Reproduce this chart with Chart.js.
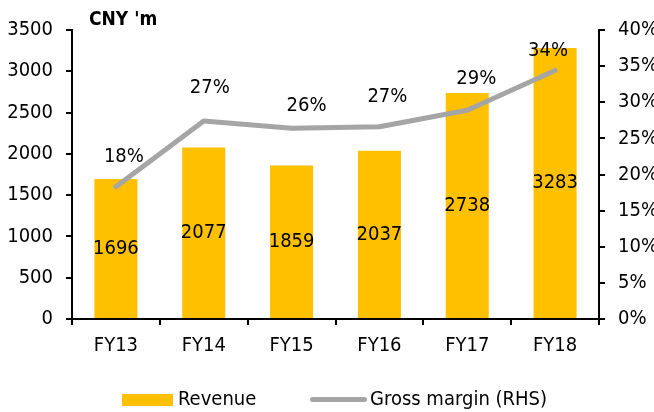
<!DOCTYPE html>
<html>
<head>
<meta charset="utf-8">
<script src="https://cdn.jsdelivr.net/npm/chart.js@4/dist/chart.umd.min.js"></script>
<style>
  html, body { margin: 0; padding: 0; background: #fff; }
  #wrap { position: relative; width: 654px; height: 412px; }
  canvas { position: absolute; left: 0; top: 0; }
  .txt { position: absolute; font-family: "DejaVu Sans Condensed", "DejaVu Sans", sans-serif; font-size: 20px; color: #000; white-space: nowrap; line-height: 1; }
  #title { left: 89px; top: 9px; font-weight: bold; font-size: 19px; }
  .sw { position: absolute; }
</style>
</head>
<body>
<div id="wrap">
  <canvas id="c" width="654" height="412"></canvas>
  <div id="title" class="txt">CNY 'm</div>
  <div class="sw" style="left:122px;top:394px;width:51px;height:12px;background:#FFC000"></div>
  <div class="txt" style="left:178px;top:388px;">Revenue</div>
  <div class="sw" style="left:310px;top:397px;width:57px;height:5px;background:#A5A5A5;border-radius:3px"></div>
  <div class="txt" style="left:370px;top:388px;">Gross margin (RHS)</div>
</div>
<script>
const categories = ["FY13", "FY14", "FY15", "FY16", "FY17", "FY18"];
const revenue = [1696, 2077, 1859, 2037, 2738, 3283];
const grossMargin = [18.3, 27.4, 26.4, 26.6, 28.9, 34.4];
const leftTicks = [0, 500, 1000, 1500, 2000, 2500, 3000, 3500];
const rightTicks = [0, 5, 10, 15, 20, 25, 30, 35, 40];

const FONT = "DejaVu Sans Condensed";
const FS = 20;
const marginLabelOffsets = [[8, -30], [6, -33], [15, -22], [8, -30], [9, -31], [-7, -20]];

const labelPlugin = {
  id: 'labels',
  afterDatasetsDraw(chart) {
    const ctx = chart.ctx;
    ctx.save();
    ctx.font = FS + "px '" + FONT + "'";
    ctx.fillStyle = '#000';
    ctx.textAlign = 'center';
    ctx.textBaseline = 'middle';
    const barMeta = chart.getDatasetMeta(0);
    barMeta.data.forEach((el, i) => {
      const cy = (el.y + el.base) / 2;
      ctx.fillText(String(revenue[i]), el.x, cy);
    });
    const lineMeta = chart.getDatasetMeta(1);
    lineMeta.data.forEach((el, i) => {
      const o = marginLabelOffsets[i];
      ctx.fillText(Math.round(grossMargin[i]) + '%', el.x + o[0], el.y + o[1]);
    });
    ctx.restore();
  }
};

new Chart(document.getElementById('c'), {
  type: 'bar',
  data: {
    labels: categories,
    datasets: [
      {
        type: 'bar', label: 'Revenue', data: revenue, yAxisID: 'y',
        backgroundColor: '#FFC000', categoryPercentage: 0.49, barPercentage: 1, order: 2
      },
      {
        type: 'line', label: 'Gross margin (RHS)', data: grossMargin, yAxisID: 'y1',
        borderColor: '#A5A5A5', borderWidth: 5, pointRadius: 0, tension: 0,
        borderCapStyle: 'round', borderJoinStyle: 'round', order: 1
      }
    ]
  },
  options: {
    responsive: false,
    animation: false,
    events: [],
    layout: { padding: { top: 30, left: 0, right: 0, bottom: 0 } },
    plugins: { legend: { display: false }, tooltip: { enabled: false } },
    scales: {
      x: {
        offset: true,
        grid: { display: true, drawOnChartArea: false, offset: true, tickLength: 6, color: '#000', lineWidth: 2 },
        border: { display: true, color: '#000', width: 2 },
        ticks: { color: '#000', font: { family: FONT, size: FS }, padding: 9 },
        afterFit(s) { s.height = 93; }
      },
      y: {
        position: 'left', min: 0, max: 3500,
        afterBuildTicks(s) { s.ticks = leftTicks.map(v => ({ value: v })); },
        grid: { drawOnChartArea: false, tickLength: 6, color: '#000', lineWidth: 2 },
        border: { display: true, color: '#000', width: 2 },
        ticks: { color: '#000', font: { family: FONT, size: FS }, padding: 13, callback: v => String(v) },
        afterFit(s) { s.width = 72; }
      },
      y1: {
        position: 'right', min: 0, max: 40,
        afterBuildTicks(s) { s.ticks = rightTicks.map(v => ({ value: v })); },
        grid: { drawOnChartArea: false, tickLength: 6, color: '#000', lineWidth: 2 },
        border: { display: true, color: '#000', width: 2 },
        ticks: { color: '#000', font: { family: FONT, size: FS }, padding: 13, callback: v => v + '%' },
        afterFit(s) { s.width = 55; }
      }
    }
  },
  plugins: [labelPlugin]
});
</script>
</body>
</html>
